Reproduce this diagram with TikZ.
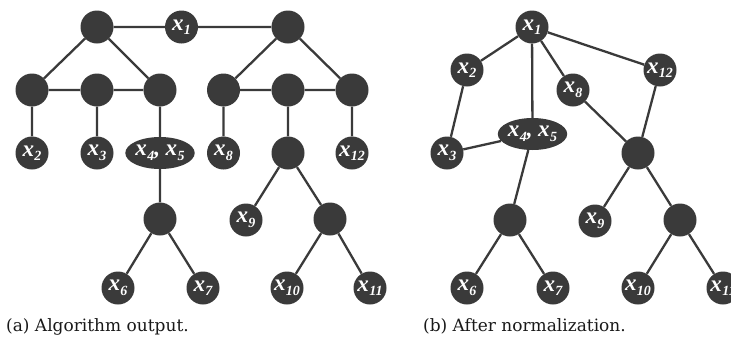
\documentclass[tikz,border=0pt]{standalone}
\usepackage{fontspec}
\setmainfont{Liberation Serif}
\newfontfamily\capfont{DejaVu Serif}
\usetikzlibrary{shapes.geometric}
\definecolor{nodecol}{RGB}{58,58,58}
\newcommand{\xs}[1]{x\kern0.3pt\raisebox{-4.5pt}{\fontsize{14}{14}\selectfont #1}}
\tikzset{
  vert/.style={circle,fill=nodecol,draw=none,minimum size=33pt,inner sep=0pt,
    text=white,font=\fontsize{23}{23}\selectfont\bfseries\itshape},
  evert/.style={ellipse,fill=nodecol,draw=none,minimum width=66pt,minimum height=32pt,inner sep=0pt,
    text=white,font=\fontsize{23}{23}\selectfont\bfseries\itshape},
  edge/.style={draw=nodecol,line width=2.3pt},
  capt/.style={anchor=base west,inner sep=0pt,font=\capfont\fontsize{17}{17}\selectfont,text=black!90}
}
\begin{document}
\begin{tikzpicture}[x=1pt,y=-1pt]
\useasboundingbox (0,0) rectangle (731,338);
% ---------- (a) ----------
\node[vert] (aTL) at (97,27) {};
\node[vert] (ax1) at (181.5,27) {\xs{1}};
\node[vert] (aTR) at (288,27) {};
\node[vert] (aA1) at (32,90) {};
\node[vert] (aA2) at (97,90) {};
\node[vert] (aA3) at (160,90) {};
\node[vert] (aB1) at (223.5,90) {};
\node[vert] (aB2) at (288,90) {};
\node[vert] (aB3) at (352,90) {};
\node[vert] (ax2) at (32,153) {\xs{2}};
\node[vert] (ax3) at (97,153) {\xs{3}};
\node[evert] (ax45) at (160,153) {\xs{4}, \xs{5}};
\node[vert] (ax8) at (223.5,153) {\xs{8}};
\node[vert] (aC) at (288,153) {};
\node[vert] (ax12) at (352,153) {\xs{12}};
\node[vert] (aD) at (160,219) {};
\node[vert] (ax9) at (246,220) {\xs{9}};
\node[vert] (aE) at (330,219) {};
\node[vert] (ax6) at (118,288) {\xs{6}};
\node[vert] (ax7) at (203,288) {\xs{7}};
\node[vert] (ax10) at (287,288) {\xs{10}};
\node[vert] (ax11) at (370,288) {\xs{11}};
\path[edge] (aTL) -- (ax1) (ax1) -- (aTR)
  (aTL) -- (aA1) (aTL) -- (aA3) (aA1) -- (aA2) (aA2) -- (aA3)
  (aTR) -- (aB1) (aTR) -- (aB3) (aB1) -- (aB2) (aB2) -- (aB3)
  (aA1) -- (ax2) (aA2) -- (ax3) (aA3) -- (ax45)
  (aB1) -- (ax8) (aB2) -- (aC) (aB3) -- (ax12)
  (ax45) -- (aD) (aD) -- (ax6) (aD) -- (ax7)
  (aC) -- (ax9) (aC) -- (aE) (aE) -- (ax10) (aE) -- (ax11);
\node[capt] (capa) at (6,331) {(a) Algorithm output.};
% ---------- (b) ----------
\node[vert] (bx1) at (532,27) {\xs{1}};
\node[vert] (bx2) at (467,70) {\xs{2}};
\node[vert] (bx12) at (660,70) {\xs{12}};
\node[vert] (bx8) at (573,90) {\xs{8}};
\node[evert] (bx45) at (532.5,134) {\xs{4}, \xs{5}};
\node[vert] (bx3) at (447,153) {\xs{3}};
\node[vert] (bF) at (638,153) {};
\node[vert] (bG) at (510,220) {};
\node[vert] (bx9) at (595,221) {\xs{9}};
\node[vert] (bH) at (680,220) {};
\node[vert] (bx6) at (467,288) {\xs{6}};
\node[vert] (bx7) at (553,288) {\xs{7}};
\node[vert] (bx10) at (638,288) {\xs{10}};
\node[vert] (bx11) at (723,288) {\xs{11}};
\path[edge] (bx1) -- (bx2) (bx1) -- (bx45) (bx1) -- (bx8) (bx1) -- (bx12)
  (bx2) -- (bx3) (bx3) -- (bx45)
  (bx8) -- (bF) (bx12) -- (bF)
  (bx45) -- (bG) (bG) -- (bx6) (bG) -- (bx7)
  (bF) -- (bx9) (bF) -- (bH) (bH) -- (bx10) (bH) -- (bx11);
\node[capt] (capb) at (423,331) {(b) After normalization.};
\end{tikzpicture}
\end{document}
